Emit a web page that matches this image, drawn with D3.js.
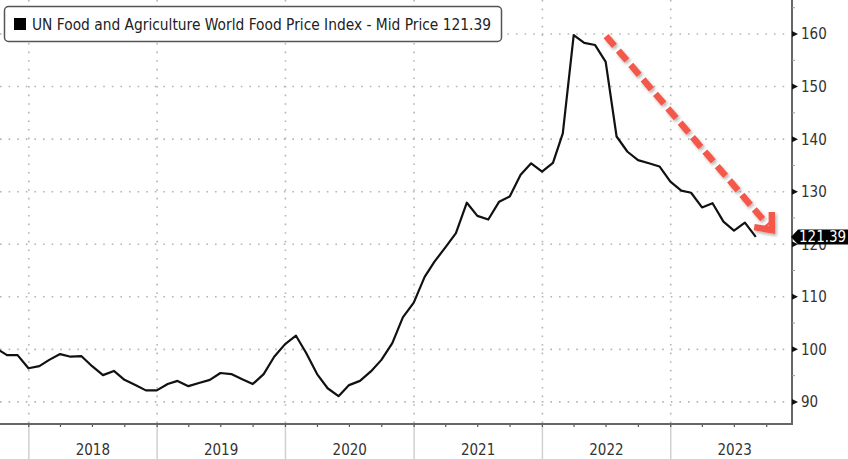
<!DOCTYPE html>
<html>
<head>
<meta charset="utf-8">
<script src="https://cdn.jsdelivr.net/npm/d3@7"></script>
<style>
  body { margin: 0; background: #fff; }
  svg { display: block; font-family: 'DejaVu Sans Condensed', 'DejaVu Sans', sans-serif; }
</style>
</head>
<body>
<svg id="chart" width="848" height="459"></svg>
<script>
// month-end observations, Sep 2017 .. Aug 2023
const startMonth = [2017, 8];
const values = [
  100.2, 98.9, 98.9, 96.4,
  96.8, 98.0, 99.1, 98.6, 98.7, 96.8, 95.1, 95.9, 94.2, 93.2, 92.2, 92.2,
  93.4, 94.0, 93.0, 93.6, 94.2, 95.5, 95.3, 94.3, 93.4, 95.3, 98.6, 101.0,
  102.6, 99.3, 95.3, 92.6, 91.1, 93.2, 94.0, 95.8, 98.0, 101.2, 106.1, 108.9,
  113.8, 116.7, 119.4, 122.1, 127.9, 125.4, 124.7, 128.1, 129.1, 133.2, 135.4, 133.8,
  135.5, 141.1, 159.8, 158.3, 157.9, 154.7, 140.5, 137.6, 136.0, 135.4, 134.8, 131.9,
  130.2, 129.8, 127.0, 127.8, 124.3, 122.6, 124.1, 121.39
];
const years = [2018, 2019, 2020, 2021, 2022, 2023];
const yTicks = [90, 100, 110, 120, 130, 140, 150, 160];
const lastValue = 121.39;
const legendText = 'UN Food and Agriculture World Food Price Index - Mid Price 121.39';
// annotation arrow: [date, value] at both ends
const trendArrow = [[new Date(2022, 6, 1), 159.6], [new Date(2023, 9, 16), 122.7]];

const svg = d3.select('#chart');
const plot = { left: 0, right: 792, top: 0, bottom: 424 };

const x = d3.scaleTime()
  .domain([new Date(2017, 9, 11), new Date(2023, 11, 12)])
  .range([plot.left, plot.right]);
const y = d3.scaleLinear()
  .domain([85.8, 166.47])
  .range([plot.bottom, plot.top]);

const points = values.map((v, i) => ({
  date: new Date(startMonth[0], startMonth[1] + i + 1, 0),
  value: v
}));

svg.append('defs').append('clipPath').attr('id', 'clip')
  .append('rect')
  .attr('x', plot.left).attr('y', plot.top)
  .attr('width', plot.right - plot.left).attr('height', plot.bottom - plot.top);

const shadow = svg.select('defs').append('filter').attr('id', 'shadow')
  .attr('x', '-20%').attr('y', '-20%').attr('width', '140%').attr('height', '140%');
shadow.append('feDropShadow')
  .attr('dx', 1.5).attr('dy', 2).attr('stdDeviation', 1.5)
  .attr('flood-color', '#000').attr('flood-opacity', 0.3);

// dotted grid
svg.append('g').selectAll('line')
  .data(yTicks)
  .join('line')
  .attr('x1', plot.left).attr('x2', plot.right)
  .attr('y1', (d) => y(d)).attr('y2', (d) => y(d))
  .attr('stroke', '#b5b5b5').attr('stroke-width', 1.6)
  .attr('stroke-dasharray', '1.6,7');

svg.append('g').selectAll('line')
  .data(years)
  .join('line')
  .attr('x1', (d) => x(new Date(d, 0, 1))).attr('x2', (d) => x(new Date(d, 0, 1)))
  .attr('y1', plot.top).attr('y2', plot.bottom)
  .attr('stroke', '#b5b5b5').attr('stroke-width', 1.6)
  .attr('stroke-dasharray', '1.6,7');

// series line
svg.append('path')
  .datum(points)
  .attr('clip-path', 'url(#clip)')
  .attr('fill', 'none')
  .attr('stroke', '#111')
  .attr('stroke-width', 2.2)
  .attr('stroke-linejoin', 'round')
  .attr('d', d3.line().x((d) => x(d.date)).y((d) => y(d.value)));

// trend arrow
const [a0, a1] = trendArrow.map(([d, v]) => [x(d), y(v)]);
const ang = Math.atan2(a1[1] - a0[1], a1[0] - a0[0]);
const head = 18;
const arrowG = svg.append('g').attr('filter', 'url(#shadow)');
arrowG.append('line')
  .attr('x1', a0[0]).attr('y1', a0[1])
  .attr('x2', a1[0] - 6 * Math.cos(ang)).attr('y2', a1[1] - 6 * Math.sin(ang))
  .attr('stroke', '#f4594b').attr('stroke-width', 6.5)
  .attr('stroke-dasharray', '13,6');
arrowG.append('path')
  .attr('d', d3.line()([
    [a1[0] - head * Math.cos(ang - 0.7), a1[1] - head * Math.sin(ang - 0.7)],
    a1,
    [a1[0] - head * Math.cos(ang + 0.7), a1[1] - head * Math.sin(ang + 0.7)]
  ]))
  .attr('fill', 'none')
  .attr('stroke', '#f4594b').attr('stroke-width', 6.5)
  .attr('stroke-linejoin', 'miter');

// bottom axis
const bottom = svg.append('g');
bottom.selectAll('line.sep')
  .data(years)
  .join('line')
  .attr('class', 'sep')
  .attr('x1', (d) => x(new Date(d, 0, 1))).attr('x2', (d) => x(new Date(d, 0, 1)))
  .attr('y1', plot.bottom).attr('y2', 459)
  .attr('stroke', '#d0d0d0').attr('stroke-width', 1.5);
bottom.selectAll('line.q')
  .data(d3.timeMonth.every(3).range(x.domain()[0], x.domain()[1]))
  .join('line')
  .attr('class', 'q')
  .attr('x1', (d) => x(d)).attr('x2', (d) => x(d))
  .attr('y1', plot.bottom).attr('y2', plot.bottom + 3)
  .attr('stroke', '#555').attr('stroke-width', 1.2);
bottom.selectAll('text')
  .data(years)
  .join('text')
  .attr('x', (d) => x(new Date(d, 6, 2)))
  .attr('y', 455)
  .attr('text-anchor', 'middle')
  .attr('font-size', 15)
  .attr('fill', '#333')
  .text((d) => d);

// frame lines
svg.append('line')
  .attr('x1', plot.left).attr('x2', plot.right + 1)
  .attr('y1', plot.bottom).attr('y2', plot.bottom)
  .attr('stroke', '#666').attr('stroke-width', 2);
svg.append('line')
  .attr('x1', plot.right).attr('x2', plot.right)
  .attr('y1', plot.top).attr('y2', plot.bottom + 1)
  .attr('stroke', '#666').attr('stroke-width', 2);

// right axis
const right = svg.append('g');
right.selectAll('line.minor')
  .data(d3.range(90, 170, 5).filter((d) => d % 10 !== 0))
  .join('line')
  .attr('class', 'minor')
  .attr('x1', plot.right).attr('x2', plot.right + 3)
  .attr('y1', (d) => y(d)).attr('y2', (d) => y(d))
  .attr('stroke', '#999').attr('stroke-width', 1);
right.selectAll('path')
  .data(yTicks)
  .join('path')
  .attr('d', (d) => `M${plot.right},${y(d) - 3}L${plot.right + 6},${y(d)}L${plot.right},${y(d) + 3}Z`)
  .attr('fill', '#111');
right.selectAll('text')
  .data(yTicks)
  .join('text')
  .attr('x', plot.right + 9)
  .attr('y', (d) => y(d))
  .attr('dy', '0.36em')
  .attr('font-size', 15)
  .attr('fill', '#333')
  .text((d) => d);

// last price tag (drawn over the 120 label, as in the terminal chart)
const ty = y(lastValue);
svg.append('path')
  .attr('d', `M${plot.right - 1},${ty}L${plot.right + 6},${ty - 7.5}H848V${ty + 7.5}H${plot.right + 6}Z`)
  .attr('fill', '#000');
svg.append('text')
  .attr('x', plot.right + 7)
  .attr('y', ty)
  .attr('dy', '0.36em')
  .attr('font-size', 15)
  .attr('fill', '#fff')
  .text(lastValue.toFixed(2));

// legend
const legend = svg.append('g');
legend.append('rect')
  .attr('x', 4.5).attr('y', 6.5)
  .attr('width', 497).attr('height', 35)
  .attr('rx', 4)
  .attr('fill', '#fff')
  .attr('stroke', '#555').attr('stroke-width', 1.5);
legend.append('rect')
  .attr('x', 14).attr('y', 18)
  .attr('width', 12).attr('height', 12)
  .attr('fill', '#000');
legend.append('text')
  .attr('x', 32).attr('y', 29.5)
  .attr('font-size', 15)
  .attr('fill', '#222')
  .attr('textLength', 459)
  .attr('lengthAdjust', 'spacingAndGlyphs')
  .text(legendText);
</script>
</body>
</html>
